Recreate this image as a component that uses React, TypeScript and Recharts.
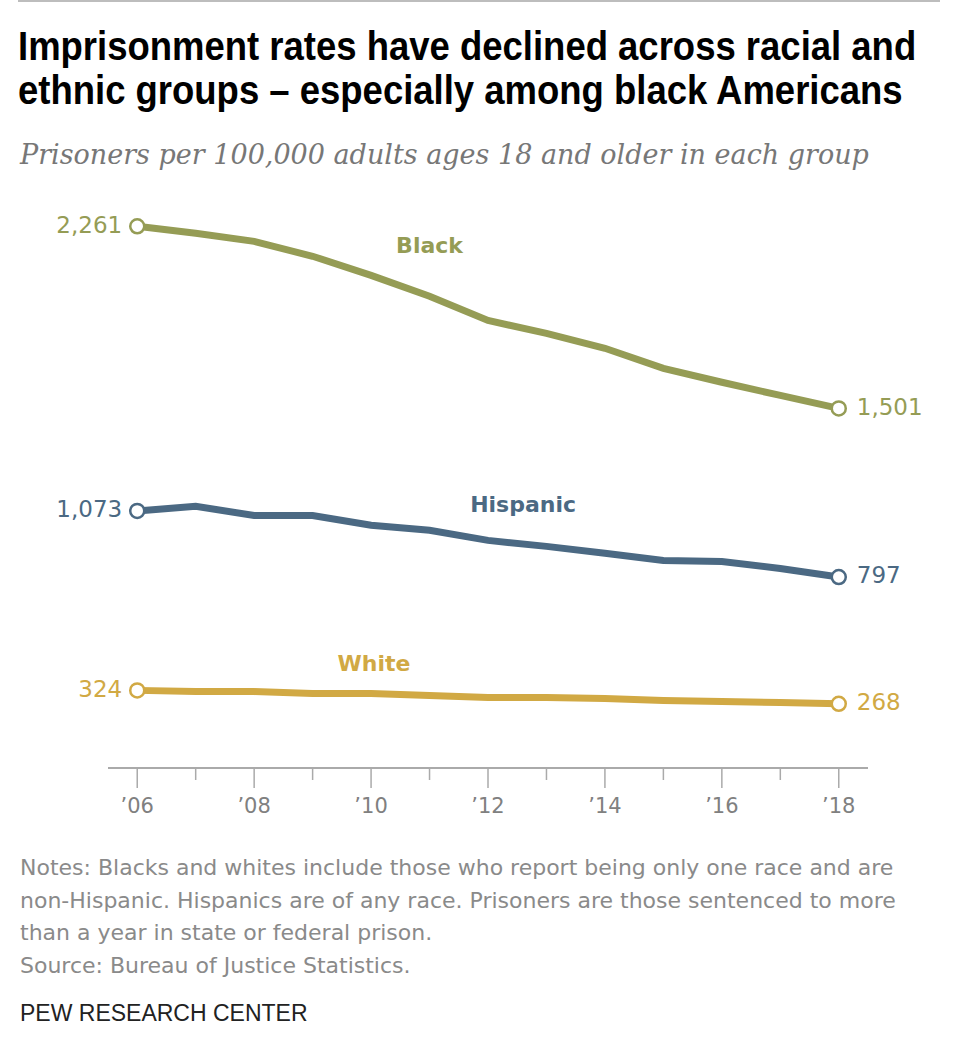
import { LineChart, Line, XAxis, YAxis, ReferenceDot } from 'recharts';

const years = [2006, 2007, 2008, 2009, 2010, 2011, 2012, 2013, 2014, 2015, 2016, 2017, 2018];
const black = [2261, 2232, 2198, 2136, 2056, 1969, 1868, 1814, 1752, 1668, 1610, 1555, 1501];
const hispanic = [1073, 1092, 1054, 1054, 1013, 992, 950, 925, 896, 866, 862, 833, 797];
const white = [324, 319, 319, 311, 311, 303, 294, 294, 290, 282, 278, 273, 268];
const tickYears = [2006, 2007, 2008, 2009, 2010, 2011, 2012, 2013, 2014, 2015, 2016, 2017, 2018];

const seriesNames = ['Black', 'Hispanic', 'White'];
// where each series name sits (year, value)
const nameAnchors = [
  { x: 2011.0, y: 2182 },
  { x: 2012.6, y: 1100 },
  { x: 2010.05, y: 437 },
];

const COLORS = { Black: '#959c55', Hispanic: '#4b6983', White: '#d1a944' };
const SANS = '"Liberation Sans", Arial, sans-serif';
const WIDE = '"DejaVu Sans", Verdana, sans-serif';

const data = years.map((yr, i) => ({
  year: yr,
  Black: black[i],
  Hispanic: hispanic[i],
  White: white[i],
}));

const fmt = (v: number) => v.toLocaleString('en-US');

function endDot(key: string) {
  const color = (COLORS as any)[key];
  return (props: any) => {
    const { cx, cy, index, value } = props;
    const last = data.length - 1;
    if (index !== 0 && index !== last) return <g key={`d-${key}-${index}`} />;
    const v = Array.isArray(value) ? value[1] : value;
    return (
      <g key={`d-${key}-${index}`}>
        <circle cx={cx} cy={cy} r={7} fill="#fff" stroke={color} strokeWidth={2.5} />
        <text
          x={index === 0 ? cx - 15 : cx + 18}
          y={cy - 2}
          dy="0.36em"
          textAnchor={index === 0 ? 'end' : 'start'}
          fill={color}
          fontSize={23}
          fontFamily={WIDE}
        >
          {fmt(v)}
        </text>
      </g>
    );
  };
}

function YearTick(props: any) {
  const { x, y, payload } = props;
  const yr = payload.value as number;
  const major = yr % 2 === 0;
  return (
    <g>
      <line x1={x} x2={x} y1={y} y2={y + (major ? 20 : 12)} stroke="#aaa" strokeWidth={1.5} />
      {major && (
        <text x={x} y={y + 45} textAnchor="middle" fill="#808080" fontSize={21} fontFamily={WIDE}>
          {'\u2019' + String(yr).slice(2)}
        </text>
      )}
    </g>
  );
}

export default function App() {
  return (
    <div style={{ position: 'absolute', left: 0, top: 0, width: 960, height: 1051, background: '#fff', fontFamily: SANS }}>
      <div style={{ position: 'absolute', left: 18, top: 0, width: 922, height: 2, background: '#bdbdbd' }} />
      <div
        style={{
          position: 'absolute',
          left: 18,
          top: 24,
          width: 1100,
          fontFamily: SANS,
          fontWeight: 700,
          fontSize: 40,
          lineHeight: '44px',
          color: '#000',
          transform: 'scaleX(0.912)',
          transformOrigin: '0 0',
          whiteSpace: 'nowrap',
        }}
      >
        Imprisonment rates have declined across racial and
        <br />
        ethnic groups – especially among black Americans
      </div>
      <div
        style={{
          position: 'absolute',
          left: 20,
          top: 139,
          fontFamily: '"DejaVu Serif", serif',
          fontStyle: 'italic',
          fontSize: 27,
          color: '#777',
          whiteSpace: 'nowrap',
        }}
      >
        Prisoners per 100,000 adults ages 18 and older in each group
      </div>

      <div style={{ position: 'absolute', left: 0, top: 0 }}>
        <LineChart width={960} height={830} data={data} margin={{ top: 193, right: 92, bottom: 12, left: 108 }}>
          <XAxis
            dataKey="year"
            type="number"
            domain={[2005.5, 2018.5]}
            ticks={tickYears}
            tick={<YearTick />}
            tickLine={false}
            tickSize={0}
            tickMargin={0}
            axisLine={{ stroke: '#aaa', strokeWidth: 2 }}
            height={50}
            interval={0}
          />
          <YAxis hide domain={[0, 2400]} />
          {seriesNames.map((k) => (
            <Line
              key={k}
              type="linear"
              dataKey={k}
              stroke={(COLORS as any)[k]}
              strokeWidth={7}
              dot={endDot(k)}
              activeDot={false}
              isAnimationActive={false}
            />
          ))}
          {seriesNames.map((k, i) => (
            <ReferenceDot
              key={`n-${k}`}
              x={nameAnchors[i].x}
              y={nameAnchors[i].y}
              r={0}
              fill="none"
              stroke="none"
              label={{
                value: k,
                position: 'center',
                fill: (COLORS as any)[k],
                fontSize: 22,
                fontWeight: 700,
                fontFamily: WIDE,
              }}
            />
          ))}
        </LineChart>
      </div>

      <div
        style={{
          position: 'absolute',
          left: 20,
          top: 852,
          width: 920,
          fontFamily: WIDE,
          fontSize: 22,
          lineHeight: '32.5px',
          color: '#8a8a8a',
          whiteSpace: 'nowrap',
        }}
      >
        Notes: Blacks and whites include those who report being only one race and are
        <br />
        non-Hispanic. Hispanics are of any race. Prisoners are those sentenced to more
        <br />
        than a year in state or federal prison.
        <br />
        Source: Bureau of Justice Statistics.
      </div>
      <div
        style={{
          position: 'absolute',
          left: 20,
          top: 1000,
          fontFamily: SANS,
          fontSize: 23,
          color: '#222',
        }}
      >
        PEW RESEARCH CENTER
      </div>
    </div>
  );
}
